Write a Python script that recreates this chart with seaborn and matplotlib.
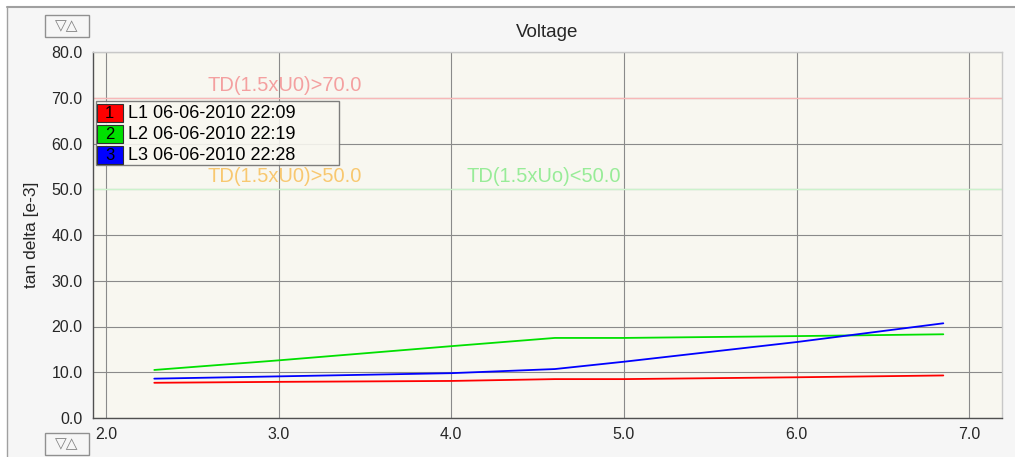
import pandas as pd
import seaborn as sns
import matplotlib.pyplot as plt
from matplotlib.patches import Rectangle

# values
voltage = [2.28, 3.0, 4.0, 4.6, 5.0, 6.0, 6.85]
l1 = [7.7, 7.9, 8.1, 8.5, 8.5, 8.9, 9.3]
l2 = [10.5, 12.6, 15.7, 17.5, 17.5, 17.9, 18.3]
l3 = [8.6, 9.1, 9.8, 10.7, 12.3, 16.6, 20.7]
series_names = ["L1 06-06-2010 22:09", "L2 06-06-2010 22:19", "L3 06-06-2010 22:28"]
series_colors = ["#ff0000", "#00e000", "#0000ff"]
x_ticks = [2.0, 3.0, 4.0, 5.0, 6.0, 7.0]
y_ticks = [0, 10, 20, 30, 40, 50, 60, 70, 80]
limits = [70.0, 50.0]

df = pd.DataFrame({
    "Voltage": voltage * 3,
    "tan delta": l1 + l2 + l3,
    "Phase": [series_names[0]] * len(voltage) + [series_names[1]] * len(voltage)
             + [series_names[2]] * len(voltage),
})

sns.set_style("white")
plt.rcParams["font.family"] = ["Liberation Sans", "DejaVu Sans"]

fig = plt.figure(figsize=(10.15, 4.57), dpi=100)
fig.patch.set_facecolor("white")

# grey panel behind the chart
fig.patches.append(Rectangle((7 / 1015, 0), 1, 1 - 7 / 457, transform=fig.transFigure,
                             facecolor="#f6f6f6", edgecolor="none", zorder=-10))
fig.add_artist(plt.Line2D([7 / 1015, 1], [1 - 7 / 457] * 2, color="#a0a0a0", lw=1.5))
fig.add_artist(plt.Line2D([7 / 1015] * 2, [0, 1 - 7 / 457], color="#a0a0a0", lw=1.0))

ax = fig.add_axes([93 / 1015, 1 - 418 / 457, 909 / 1015, 366 / 457])
ax.set_facecolor("#f8f7f0")

sns.lineplot(data=df, x="Voltage", y="tan delta", hue="Phase",
             palette=series_colors, legend=False, linewidth=1.3, ax=ax, zorder=3)

# limit lines
ax.axhline(limits[0], color="#f8b8b8", lw=1.0, zorder=1)
ax.axhline(limits[1], color="#ccf2cc", lw=1.0, zorder=1)
ax.text(2.59, 72.6, "TD(1.5xU0)>70.0", color="#f4a0a0", fontsize=14.5, va="center")
ax.text(2.59, 52.7, "TD(1.5xU0)>50.0", color="#f8c870", fontsize=14.5, va="center")
ax.text(4.09, 52.7, "TD(1.5xUo)<50.0", color="#98ec98", fontsize=14.5, va="center")

ax.set_xlim(1.925, 7.19)
ax.set_ylim(0, 80)
ax.set_xticks(x_ticks)
ax.set_xticklabels([f"{v:.1f}" for v in x_ticks])
ax.set_yticks(y_ticks)
ax.set_yticklabels([f"{v:.1f}" for v in y_ticks])
ax.grid(True, color="#8a8a8a", lw=0.8)
ax.tick_params(axis="y", length=6, width=0.8, color="#505050", pad=1.5, labelsize=11.5)
ax.tick_params(axis="x", length=4, width=0.8, color="#808080", pad=2.5, labelsize=11.5)
for s in ["left", "bottom"]:
    ax.spines[s].set_color("#505050")
    ax.spines[s].set_linewidth(1.0)
for s in ["top", "right"]:
    ax.spines[s].set_color("#c8c8c8")
    ax.spines[s].set_linewidth(1.0)
ax.set_xlabel("")
ax.set_ylabel("tan delta [e-3]", fontsize=12.5, labelpad=9)
ax.set_title("Voltage", fontsize=13.5, pad=11)

# legend box with numbered colour squares
ax.add_patch(Rectangle((0.0033, 0.691), 0.267, 0.175, transform=ax.transAxes,
                       facecolor="#f8f7f0", edgecolor="#707070", lw=1.0, alpha=0.9,
                       zorder=5))
for i, (name, col) in enumerate(zip(series_names, series_colors)):
    y0 = 0.833 - i * 0.0575
    ax.add_patch(Rectangle((0.0045, y0 - 0.025), 0.028, 0.05, transform=ax.transAxes,
                           facecolor=col, edgecolor="#303030", lw=0.8, zorder=6))
    ax.text(0.0185, y0, str(i + 1), transform=ax.transAxes, ha="center", va="center",
            fontsize=12, color="black", zorder=7)
    ax.text(0.038, y0, name, transform=ax.transAxes, ha="left", va="center",
            fontsize=13, color="black", zorder=7)

# small zoom buttons
for yb in [1 - 37 / 457, 1 - 455 / 457]:
    fig.patches.append(Rectangle((45 / 1015, yb), 44 / 1015, 22 / 457,
                                 transform=fig.transFigure, facecolor="none",
                                 edgecolor="#909090", lw=1.0))
    fig.text(67 / 1015, yb + 11 / 457, "\u25bd\u25b3", ha="center", va="center",
             fontsize=11, color="#808080", family="DejaVu Sans")

fig.savefig("out.png", dpi=100)
